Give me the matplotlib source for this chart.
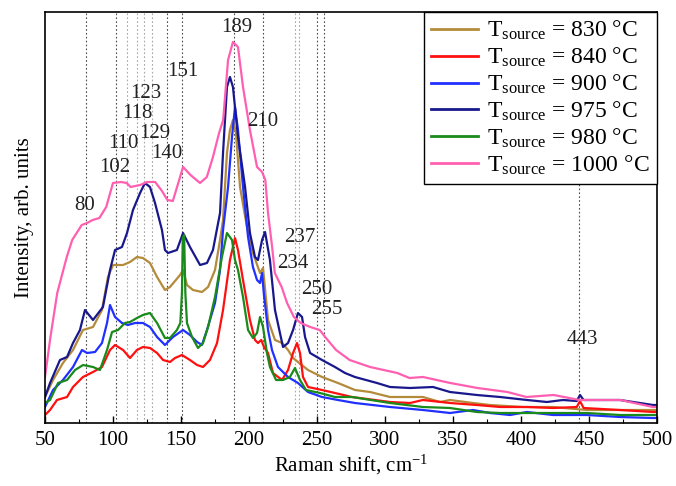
import matplotlib
matplotlib.use("Agg")
import matplotlib.pyplot as plt
import numpy as np

plt.rcParams['font.family'] = ['Liberation Serif', 'DejaVu Serif']
plt.rcParams['mathtext.fontset'] = 'custom'
plt.rcParams['mathtext.rm'] = 'Liberation Serif'
plt.rcParams['mathtext.it'] = 'Liberation Serif:italic'

# ---- data (Raman shift, cm^-1 ; intensity, arb. units) ----
x_1000 = [50, 54, 59, 66, 70, 77, 81, 85, 90, 95, 100, 106, 110, 113, 120, 125, 131, 136, 140, 144, 148, 151.5, 157, 164, 169, 173.5, 178, 181, 184.6, 188.2, 191.9, 195.6, 200.7, 205.9, 209.6, 212, 214, 217, 219, 224, 228, 233, 238, 245, 252, 256, 264, 274, 289, 309, 318, 328, 348, 368, 390, 404, 424, 443, 473, 497, 500]
y_1000 = [46, 86, 130, 166, 183, 198, 200, 203, 205, 216, 240, 241, 240, 236, 238, 241, 241, 232, 223, 222, 240, 256, 248, 240, 246, 266, 290, 303, 363, 381, 376, 336, 293, 256, 251, 243, 210, 176, 150, 136, 120, 106, 100, 96, 93, 86, 73, 63, 56, 50, 45, 46, 40, 35, 31, 26, 28, 23, 23, 16, 16]

x_975 = [50, 53.7, 61, 66.2, 70.6, 75.7, 79.4, 85.3, 92.6, 97.8, 101.5, 106.6, 110.3, 114.7, 119.9, 123.5, 127.2, 130.9, 136, 138.2, 140.4, 147, 151.5, 156.6, 164, 169.1, 173.5, 178.7, 180.9, 183.8, 186, 188.2, 191.9, 197.1, 200.7, 204.4, 206.6, 209.6, 211.8, 215.4, 219.1, 225, 228.7, 232.4, 236, 239, 241.2, 244.9, 253.7, 263.2, 270.6, 277.9, 294.1, 303.7, 318.4, 335.3, 347.8, 367.6, 384.6, 404.4, 419.1, 430.9, 441, 443.4, 446, 472.8, 497.1, 500]
y_975 = [26, 40, 63, 66, 80, 93, 113, 103, 116, 153, 173, 176, 190, 213, 230, 240, 236, 220, 193, 173, 170, 173, 190, 176, 158, 160, 173, 210, 270, 336, 346, 336, 286, 236, 190, 166, 163, 183, 191, 163, 113, 76, 80, 93, 110, 106, 86, 70, 63, 56, 50, 46, 40, 36, 35, 36, 31, 28, 26, 23, 21, 23, 22, 28, 23, 23, 18, 18]

x_830 = [50, 55.9, 63.2, 70.6, 77.9, 85.3, 91.9, 96.3, 100, 107.4, 112.5, 117.6, 122, 127.2, 132.4, 138.2, 141.9, 149.3, 151.5, 154.4, 158.8, 165.4, 169.9, 175, 178.7, 180.9, 183.8, 186, 188.2, 190.4, 193.4, 198.5, 202.9, 208.1, 210.3, 214, 219.1, 224.3, 228.7, 232.4, 236, 243.4, 253.7, 265.4, 277.9, 289, 303.7, 318.4, 327.9, 340.4, 347.8, 364.7, 377.2, 401.5, 423.5, 448.5, 472.8, 497.1, 500]
y_830 = [26, 43, 60, 73, 93, 96, 113, 146, 158, 158, 161, 166, 165, 160, 146, 133, 136, 148, 153, 138, 133, 131, 136, 153, 183, 203, 270, 293, 303, 290, 236, 196, 170, 150, 155, 103, 83, 80, 73, 65, 61, 53, 46, 40, 33, 31, 26, 26, 26, 21, 23, 20, 18, 16, 16, 13, 13, 13, 13]

x_900 = [50, 55.9, 63.2, 70.6, 77.2, 80.9, 86.8, 91.9, 95.6, 97.8, 101.5, 106.6, 111, 116.2, 122, 127.2, 132.4, 138.2, 144.1, 151.5, 156.6, 161.8, 165.4, 169.1, 175, 178.7, 180.9, 184.6, 187.5, 189.7, 191.9, 195.6, 199.3, 202.9, 205.9, 208.1, 209.6, 211, 214, 216.9, 221.3, 228.7, 236, 243.4, 253.7, 265.4, 277.9, 303.7, 327.9, 347.8, 364.7, 377.2, 391.9, 404.4, 423.5, 448.5, 472.8, 497.1, 500]
y_900 = [16, 33, 43, 56, 73, 70, 71, 80, 100, 118, 106, 100, 98, 100, 100, 96, 86, 78, 86, 93, 88, 81, 78, 93, 120, 153, 193, 236, 286, 316, 293, 236, 186, 156, 143, 140, 150, 128, 93, 73, 56, 46, 40, 31, 26, 23, 20, 16, 13, 10, 13, 10, 8, 11, 8, 8, 6, 5, 5]

x_980 = [50, 53.7, 59.6, 66.2, 72.1, 78, 85.3, 90.4, 95.6, 99.3, 103.7, 108.8, 112.5, 117.6, 122, 127.2, 132.4, 138.2, 141.9, 147, 149.5, 150.7, 151.3, 152.3, 153.2, 154.4, 158.1, 162.5, 166.2, 169.9, 175, 180.1, 183.8, 187.5, 189.7, 191.9, 195.6, 199.3, 202.9, 205.9, 208.1, 210.3, 213.2, 215.4, 219.9, 225, 230.1, 233.8, 237.5, 241.9, 252.2, 263.2, 275.7, 303.7, 327.9, 347.8, 367.6, 384.6, 404.4, 423.5, 448.5, 472.8, 497.1, 500]
y_980 = [20, 23, 40, 43, 53, 58, 56, 53, 73, 91, 93, 100, 101, 105, 108, 110, 100, 85, 85, 93, 100, 130, 185, 188, 130, 100, 86, 75, 80, 96, 126, 166, 190, 183, 163, 153, 126, 93, 85, 90, 106, 96, 70, 56, 43, 43, 46, 55, 43, 33, 30, 26, 26, 20, 16, 15, 11, 10, 10, 10, 10, 8, 8, 8]

x_840 = [50, 53.7, 58.8, 66.2, 70.6, 77.9, 85.3, 91.9, 97.8, 101.5, 107.4, 112.5, 117.6, 122, 127.2, 132.4, 136.8, 141.9, 145.6, 150.7, 156.6, 161.8, 166.2, 171.3, 176.5, 180.9, 186, 189.7, 191.9, 195.6, 200.7, 204.4, 206.6, 209, 211, 214, 217.6, 224.3, 228.7, 232.4, 235.3, 237.5, 239.7, 243.4, 253.7, 263.2, 275.7, 303.7, 318.4, 327.9, 347.8, 367.6, 384.6, 404.4, 423.5, 441, 443.4, 446, 472.8, 497.1, 500]
y_840 = [8, 13, 23, 26, 36, 46, 51, 56, 73, 78, 73, 65, 73, 76, 75, 70, 63, 61, 65, 68, 63, 58, 56, 63, 80, 113, 163, 185, 173, 143, 103, 83, 80, 83, 76, 70, 50, 43, 53, 70, 80, 70, 46, 36, 33, 30, 26, 21, 20, 23, 20, 18, 16, 16, 15, 16, 22, 15, 13, 11, 11]

series_labels = ["830", "840", "900", "975", "980", "1000"]
series_colors = ["#B38B3A", "#FF1010", "#2030FF", "#18188C", "#1A8A1A", "#FF5FB0"]

peak_dark = [80, 102, 140, 151, 189, 210, 250, 255, 443]
peak_light = [110, 118, 123, 129, 234, 237]
peak_text = ["80", "102", "110", "118", "123", "129", "140", "151", "189", "210", "237", "234", "250", "255", "443"]
peak_text_x = [79.4, 101.1, 107.4, 117.6, 124.3, 130.9, 139.7, 151.1, 191.2, 210.3, 237.5, 232.4, 250, 257.4, 444.9]
peak_text_y = [218, 256, 280, 310, 330, 290, 270, 351, 395, 301, 186, 160, 133, 113, 83]

# ---- figure ----
fig = plt.figure(figsize=(6.76, 4.86), dpi=100)
ax = fig.add_axes([45/676, 63/486, 612/676, 411/486])

for xv in peak_dark:
    ax.axvline(xv, color='0.3', lw=0.8, ls=(0, (1.5, 2.0)), zorder=0)
for xv in peak_light:
    ax.axvline(xv, color='0.65', lw=0.8, ls=(0, (1.5, 2.0)), zorder=0)

data = [(x_830, y_830), (x_840, y_840), (x_900, y_900), (x_975, y_975), (x_980, y_980), (x_1000, y_1000)]
for (xs, ys), lab, col in zip(data, series_labels, series_colors):
    ax.plot(xs, ys, color=col, lw=1.6,
            label=r"T$_{\mathregular{source}}$ = " + lab + " °C", zorder=2)

for t, tx, ty in zip(peak_text, peak_text_x, peak_text_y):
    ax.text(tx, ty, t, ha='center', va='center', fontsize=15, color='#222222', zorder=3)

ax.set_xlim(50, 500)
ax.set_ylim(0, 411)
ax.set_xticks(np.arange(50, 501, 50))
ax.set_xticks(np.arange(75, 500, 50), minor=True)
ax.set_yticks([])
ax.tick_params(axis='x', which='major', direction='in', length=5, width=1, labelsize=15, pad=6)
ax.tick_params(axis='x', which='minor', direction='in', length=3, width=0.8)
for sp in ax.spines.values():
    sp.set_linewidth(1.2)

ax.set_xlabel(r"Raman shift, cm$^{\mathregular{-1}}$", fontsize=15, labelpad=2)
ax.set_ylabel("Intensity, arb. units", fontsize=15, labelpad=8)

leg = ax.legend(loc='upper right', borderaxespad=0, fontsize=17, frameon=True,
                fancybox=False, edgecolor='black', framealpha=1,
                handlelength=2.0, handletextpad=0.4, labelspacing=0.15,
                borderpad=0.3)
leg.get_frame().set_linewidth(1.0)
for h in leg.get_lines():
    h.set_linewidth(2.0)
leg.set_zorder(5)

fig.savefig("out.png", dpi=100)
